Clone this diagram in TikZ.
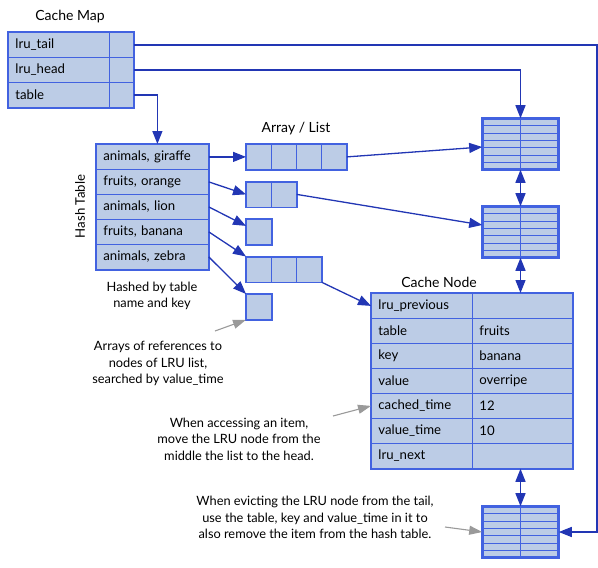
\documentclass[tikz,border=0pt]{standalone}
\usepackage{fontspec}
\setmainfont{Lato}
\usepackage{tikz}
\usetikzlibrary{arrows.meta, positioning, calc}
\definecolor{lrufill}{HTML}{BCCCE6}
\definecolor{lruline}{HTML}{4262E0}
\definecolor{lrulink}{HTML}{2236B4}
\definecolor{lrunote}{HTML}{9A9A9A}
\tikzset{
  cell/.style={draw=lruline, fill=lrufill, line width=0.8pt, inner sep=0pt,
    minimum height=25pt, anchor=north west},
  field/.style={cell, inner xsep=7pt, text width=#1, align=left},
  frame/.style={draw=lruline, line width=1.6pt},
  lnode/.style={draw=lruline, fill=lrufill, line width=1.6pt, inner sep=0pt,
    minimum width=75pt, minimum height=50pt},
  link/.style={draw=lrulink, line width=1.3pt, -{Triangle[length=13pt, width=10pt]}},
  both/.style={link, {Triangle[length=13pt, width=10pt]}-{Triangle[length=13pt, width=10pt]}},
  note/.style={font=\fontsize{12.8}{16.5}\selectfont, align=center},
  notelink/.style={draw=lrunote, line width=1.1pt, -{Triangle[length=13pt, width=9pt]}},
  title/.style={font=\fontsize{14}{16}\selectfont},
}
\begin{document}
\begin{tikzpicture}[x=1pt, y=-1pt, font=\fontsize{13.2}{15}\selectfont]
  \useasboundingbox (0,0) rectangle (598,568);
  % Cache map: three rows
  \node[title] (maptitle) at (70,17) {Cache Map};
  \foreach \txt [count=\i] in {lru\_tail, lru\_head, table} {
    \node[field=87pt] (map\i) at (8, 7+25*\i) {\txt};
    \node[cell, minimum width=24pt] (mapv\i) at (109, 7+25*\i) {};
  }
  \draw[frame] (map1.north west) rectangle (mapv3.south east);
  % Hash table: five rows
  \node[rotate=90] (htlabel) at (80,206.5) {Hash Table};
  \foreach \txt [count=\i] in {{animals, giraffe}, {fruits, orange}, {animals, lion},
      {fruits, banana}, {animals, zebra}} {
    \node[field=98pt] (ht\i) at (96, 119+25*\i) {\txt};
  }
  \draw[frame] (ht1.north west) rectangle (ht5.south east);
  % Arrays of references
  \node[title] (arrtitle) at (296,129) {Array / List};
  \foreach \n/\y [count=\i] in {4/144, 2/181.5, 1/219, 3/256.5, 1/294} {
    \foreach \j in {1,...,\n} {
      \node[cell, minimum width=25pt] (a\i c\j) at (221+25*\j, \y) {};
    }
    \draw[frame] (a\i c1.north west) rectangle (a\i c\n.south east);
  }
  % LRU list nodes
  \node[lnode] (lhead) at (520.5,144) {};
  \node[lnode] (lsecond) at (520.5,232) {};
  \node[lnode] (ltail) at (520.5,532) {};
  \foreach \ln in {lhead, lsecond, ltail} {
    \foreach \k in {1,...,6} {
      \draw[lruline, line width=0.7pt] ($(\ln.north west)!\k/7!(\ln.south west)$)
        -- ($(\ln.north east)!\k/7!(\ln.south east)$);
    }
    \draw[lruline, line width=0.7pt] (\ln.north) -- (\ln.south);
    \draw[frame] (\ln.north west) rectangle (\ln.south east);
  }
  % Cache node
  \node[title] (cntitle) at (439,282) {Cache Node};
  \foreach \key/\val [count=\i] in {lru\_previous/, table/fruits, key/banana,
      value/overripe, cached\_time/12, value\_time/10, lru\_next/} {
    \node[field=87pt] (cnk\i) at (371, 268+25*\i) {\key};
    \node[field=86pt] (cnv\i) at (472, 268+25*\i) {\val};
  }
  \draw[frame] (cnk1.north west) rectangle (cnv7.south east);
  % Pointers from the cache map
  \coordinate (rail) at (597,0);
  \draw[link] (mapv1.east) -- (mapv1.east -| rail) |- (ltail.east);
  \draw[link] (mapv2.east) -| (lhead.north);
  \draw[link] (mapv3.east) -| ([xshift=5pt]ht1.north);
  % Hash table to arrays
  \draw[link] (ht1.east) -- (a1c1.west);
  \draw[link] (ht2.east) -- (a2c1.west);
  \draw[link] (ht3.east) -- ([yshift=6pt]a3c1.west);
  \draw[link] (ht4.east) -- (a4c1.north west);
  \draw[link] (ht5.east) -- (a5c1.north west);
  % Arrays to list nodes
  \draw[link] (a1c4.east) -- ([yshift=-3pt]lhead.west);
  \draw[link] (a2c2.east) -- ([yshift=7pt]lsecond.west);
  \draw[link] (a4c3.south east) -- (cnk1.west);
  % List links
  \draw[both] (lhead.south) -- (lsecond.north);
  \draw[both] (lsecond.south) -- (lsecond.south |- cnk1.north);
  \draw[both] (lsecond.south |- cnk7.south) -- (ltail.north);
  % Notes
  \node[note] (nhash) at (152,296) {Hashed by table\\name and key};
  \node[note] (narr) at (158,363.5) {Arrays of references to\\nodes of LRU list,\\searched by value\_time};
  \node[note] (naccess) at (239,439) {When accessing an item,\\move the LRU node from the\\middle the list to the head.};
  \node[note] (nevict) at (315,517.5) {When evicting the LRU node from the tail,\\use the table, key and value\_time in it to\\also remove the item from the hash table.};
  \coordinate (garr) at (215,331);
  \coordinate (gaccess) at (333,416);
  \coordinate (gevict) at (445,527);
  \draw[notelink] (garr) -- (a5c1.south west);
  \draw[notelink] (gaccess) -- (cnk5.west);
  \draw[notelink] (gevict) -- (ltail.west);
\end{tikzpicture}
\end{document}
